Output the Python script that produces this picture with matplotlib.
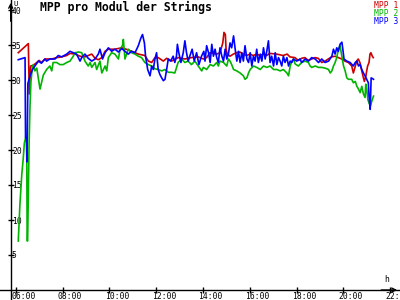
import matplotlib
matplotlib.use("Agg")
import matplotlib.pyplot as plt
from matplotlib.transforms import ScaledTranslation

# MPP-Spannung je Modul (V) ueber die Uhrzeit (h)
mpp1_t = [6.11, 6.54, 6.58, 6.64, 6.75, 6.90, 7.00, 7.10, 7.25, 7.40, 7.54, 7.75, 7.96, 8.18, 8.32,
          8.54, 8.75, 8.96, 9.10, 9.25, 9.39, 9.53, 9.68, 9.82, 9.96, 10.10, 10.24, 10.53, 10.81,
          11.10, 11.24, 11.52, 11.67, 11.81, 11.95, 12.09, 12.31, 12.45, 12.66, 12.94, 13.23, 13.51,
          13.80, 14.02, 14.16, 14.30, 14.45, 14.59, 14.73, 14.85, 14.90, 14.96, 14.99, 15.04, 15.16,
          15.30, 15.44, 15.58, 15.73, 15.87, 16.01, 16.15, 16.30, 16.44, 16.58, 16.72, 16.86, 17.15,
          17.43, 17.60, 17.72, 17.93, 18.08, 18.22, 18.36, 18.50, 18.65, 18.79, 18.93, 19.08, 19.22,
          19.36, 19.50, 19.65, 19.79, 19.93, 20.07, 20.22, 20.36, 20.43, 20.50, 20.57, 20.64, 20.71,
          20.79, 20.86, 20.90, 20.96, 21.00, 21.04, 21.10, 21.14, 21.18, 21.24, 21.28]
mpp1_v = [33.9, 35.2, 28.0, 32.0, 32.1, 32.5, 32.8, 32.5, 33.0, 33.0, 33.0, 33.2, 33.3, 33.5, 33.8,
          33.7, 33.4, 33.3, 33.5, 33.7, 33.1, 32.9, 33.2, 34.1, 34.4, 34.4, 34.4, 34.6, 34.3,
          33.9, 33.7, 33.5, 32.7, 32.5, 33.2, 33.2, 32.7, 33.1, 32.7, 33.2, 33.0, 33.2,
          33.3, 33.0, 33.2, 33.9, 33.8, 33.7, 33.9, 35.3, 36.8, 36.5, 34.4, 33.7, 33.4,
          33.7, 33.9, 34.0, 33.7, 33.5, 33.7, 33.5, 33.7, 33.5, 33.7, 33.5, 33.8, 33.7,
          33.5, 33.7, 33.3, 33.2, 32.8, 33.1, 33.2, 32.8, 33.0, 33.2, 33.1, 32.5, 32.7,
          33.0, 33.3, 33.4, 33.2, 33.0, 32.7, 32.5, 32.0, 31.0, 31.8, 32.7, 33.0, 32.5,
          31.3, 30.3, 29.8, 30.5, 31.3, 32.0, 32.5, 33.7, 33.9, 33.4, 33.2]

mpp2_t = [6.11, 6.18, 6.26, 6.32, 6.37, 6.44, 6.47, 6.49, 6.51, 6.57, 6.61, 6.65, 6.71, 6.75, 6.82,
          6.90, 7.00, 7.04, 7.18, 7.32, 7.46, 7.54, 7.60, 7.75, 7.89, 8.03, 8.18, 8.32, 8.46, 8.54,
          8.68, 8.82, 8.96, 9.10, 9.18, 9.25, 9.39, 9.46, 9.60, 9.68, 9.82, 9.89, 9.96, 10.10, 10.24,
          10.39, 10.46, 10.56, 10.60, 10.67, 10.81, 10.95, 11.10, 11.24, 11.38, 11.52, 11.67, 11.81,
          11.95, 12.09, 12.24, 12.38, 12.52, 12.66, 12.80, 12.94, 13.09, 13.23, 13.37, 13.51, 13.66,
          13.80, 13.95, 14.02, 14.16, 14.31, 14.45, 14.59, 14.66, 14.73, 14.88, 15.02, 15.09, 15.16,
          15.23, 15.31, 15.45, 15.59, 15.73, 15.80, 15.88, 15.95, 16.02, 16.16, 16.30, 16.45, 16.59,
          16.73, 16.87, 17.02, 17.16, 17.30, 17.44, 17.59, 17.66, 17.73, 17.80, 17.87, 17.94, 18.08,
          18.22, 18.37, 18.51, 18.58, 18.65, 18.80, 18.94, 19.08, 19.22, 19.37, 19.44, 19.51, 19.58,
          19.65, 19.72, 19.79, 19.86, 19.94, 20.01, 20.08, 20.15, 20.22, 20.36, 20.43, 20.51, 20.58,
          20.65, 20.72, 20.79, 20.86, 20.93, 20.96, 21.00, 21.05, 21.10, 21.16, 21.22, 21.29]
mpp2_v = [7.0, 12.2, 16.5, 18.7, 21.0, 22.0, 21.0, 7.0, 7.0, 20.5, 26.2, 29.7, 31.8, 32.2, 31.3,
          31.7, 29.6, 28.7, 30.7, 31.5, 32.0, 31.3, 32.5, 32.5, 32.2, 32.2, 32.5, 32.7, 33.4, 33.9,
          34.0, 33.9, 32.7, 32.0, 32.5, 31.8, 32.5, 31.5, 32.7, 31.0, 32.0, 31.3, 33.2, 33.9, 33.7,
          33.0, 34.4, 34.9, 35.8, 33.0, 34.4, 33.9, 33.7, 33.4, 33.2, 32.5, 32.2, 32.0,
          31.6, 31.5, 31.3, 31.5, 31.1, 31.1, 31.0, 32.5, 33.0, 32.5, 32.7, 32.2, 32.7,
          32.0, 31.3, 31.8, 31.5, 32.2, 32.0, 32.5, 32.0, 32.7, 32.5, 32.0, 33.0, 32.7,
          32.2, 31.5, 31.3, 31.0, 30.6, 30.1, 30.3, 31.0, 31.5, 32.0, 31.8, 31.5, 32.0,
          31.8, 32.0, 31.5, 31.5, 31.3, 31.5, 31.0, 30.6, 32.0, 32.7, 33.0, 32.3, 32.0,
          32.5, 32.7, 32.5, 32.0, 31.8, 32.0, 31.8, 31.8, 31.7, 31.5, 31.0, 31.3, 32.0,
          32.5, 33.2, 34.4, 34.9, 33.4, 32.0, 31.3, 30.3, 30.1, 30.1, 29.6, 29.8, 29.1,
          28.7, 28.2, 29.1, 28.0, 27.5, 29.4, 28.7, 27.2, 26.7, 26.3, 27.0, 27.7]

mpp3_t = [6.11, 6.40, 6.42, 6.46, 6.48, 6.52, 6.61, 6.72, 6.82, 6.97, 7.10, 7.25, 7.32, 7.46, 7.68,
          7.82, 7.96, 8.18, 8.32, 8.46, 8.60, 8.75, 8.82, 8.96, 9.10, 9.25, 9.39, 9.53, 9.60, 9.71,
          9.82, 9.96, 10.10, 10.24, 10.39, 10.53, 10.67, 10.81, 10.95, 11.10, 11.24, 11.35, 11.42,
          11.50, 11.55, 11.64, 11.74, 11.81, 11.88, 11.95, 12.02, 12.09, 12.16, 12.24, 12.31, 12.38,
          12.45, 12.52, 12.62, 12.73, 12.80, 12.87, 12.91, 12.97, 13.06, 13.16, 13.23, 13.30, 13.37,
          13.44, 13.54, 13.63, 13.73, 13.83, 13.94, 14.04, 14.09, 14.16, 14.24, 14.31, 14.38, 14.45,
          14.52, 14.59, 14.66, 14.73, 14.81, 14.88, 14.95, 15.02, 15.09, 15.16, 15.23, 15.31, 15.38,
          15.45, 15.52, 15.59, 15.66, 15.73, 15.80, 15.88, 15.95, 16.02, 16.09, 16.16, 16.23, 16.30,
          16.37, 16.45, 16.52, 16.59, 16.66, 16.73, 16.80, 16.87, 16.94, 17.02, 17.09, 17.16, 17.23,
          17.30, 17.37, 17.44, 17.51, 17.59, 17.66, 17.73, 17.80, 17.87, 18.01, 18.15, 18.22, 18.37,
          18.51, 18.65, 18.80, 18.94, 19.08, 19.22, 19.37, 19.51, 19.58, 19.65, 19.72, 19.79, 19.86,
          19.94, 19.98, 20.03, 20.15, 20.29, 20.43, 20.51, 20.58, 20.65, 20.72, 20.79, 20.86, 20.93,
          21.00, 21.07, 21.10, 21.15, 21.19, 21.25, 21.29]
mpp3_v = [32.9, 33.2, 21.8, 21.5, 18.3, 29.5, 30.6, 31.5, 32.0, 32.7, 32.4, 33.0, 32.7, 33.0, 33.0,
          33.5, 33.3, 33.7, 34.1, 33.9, 33.7, 32.7, 33.2, 33.7, 33.1, 32.7, 33.0, 33.7, 34.4, 33.0,
          33.9, 34.6, 34.1, 34.4, 34.0, 34.5, 34.1, 33.7, 34.1, 33.9, 34.9, 36.0, 36.5,
          35.3, 33.4, 31.5, 30.6, 32.0, 31.5, 33.0, 33.9, 31.5, 30.8, 30.3, 29.9, 30.1,
          31.5, 33.0, 32.7, 33.4, 32.5, 33.4, 35.1, 33.9, 32.5, 33.9, 35.6, 33.9, 32.7,
          33.4, 34.4, 32.7, 33.9, 32.2, 33.4, 34.1, 32.7, 34.9, 33.9, 32.5, 35.1, 33.4,
          34.4, 33.2, 32.5, 34.6, 33.4, 32.7, 34.4, 33.0, 33.7, 35.3, 34.6, 36.3, 34.4,
          32.7, 34.1, 32.5, 33.9, 32.7, 34.9, 33.0, 32.5, 33.9, 32.0, 33.4, 32.7, 34.4,
          32.5, 33.7, 32.7, 34.6, 33.0, 34.1, 35.6, 32.5, 33.4, 32.0, 33.9, 32.2, 33.2,
          32.7, 32.0, 33.4, 32.5, 33.2, 32.0, 32.7, 32.5, 33.0, 32.7, 33.0, 32.5, 33.0,
          32.7, 33.2, 33.0, 32.5, 33.0, 32.5, 32.7, 33.4, 34.4, 33.7, 34.6, 34.1, 35.1,
          35.4, 34.4, 33.0, 32.7, 32.5, 32.0, 32.5, 32.7, 32.0, 32.2, 31.5, 31.0, 30.6,
          30.1, 29.6, 27.7, 25.8, 30.3, 30.2, 30.1]

x_ticks = [6, 8, 10, 12, 14, 16, 18, 20, 22]
x_labels = ["06:00", "08:00", "10:00", "12:00", "14:00", "16:00", "18:00", "20:00", "22:00"]
y_ticks = [5, 10, 15, 20, 25, 30, 35, 40]

farbe1 = "#cc0000"
farbe2 = "#00b400"
farbe3 = "#0000ff"
schrift = "DejaVu Sans Mono"

fig = plt.figure(figsize=(4, 3), dpi=100)
ax = fig.add_axes([0, 0, 1, 1])
ax.patch.set_alpha(0)

# pixel geometrie: 06:00 bei x=15.7, 23.4 px pro Stunde; 0 V bei y=290, 7 px pro Volt
ax.set_xlim(6 - 15.7 / 23.4, 6 + 384.3 / 23.4)
ax.set_ylim(-10 / 7, 290 / 7)
x_achse = 6 - 5.0 / 23.4

ax.plot(mpp1_t, mpp1_v, color=farbe1, lw=1.2)
ax.plot(mpp2_t, mpp2_v, color=farbe2, lw=1.2)
ax.plot(mpp3_t, mpp3_v, color=farbe3, lw=1.2)

for s in ["top", "right"]:
    ax.spines[s].set_visible(False)
ax.spines["left"].set_position(("data", x_achse))
ax.spines["bottom"].set_position(("data", 0))
ax.spines["left"].set_linewidth(1.0)
ax.spines["bottom"].set_linewidth(1.0)

ax.set_xticks(x_ticks)
ax.set_xticklabels(x_labels)
ax.set_yticks(y_ticks)
ax.set_yticklabels([str(v) for v in y_ticks])
ax.tick_params(axis="both", direction="inout", length=4, width=1, labelsize=5.8)
ax.tick_params(axis="y", pad=-2.9)
ax.tick_params(axis="x", pad=-0.6)

for lab in ax.get_yticklabels():
    lab.set_horizontalalignment("left")
    lab.set_family(schrift)
for lab in ax.get_xticklabels():
    lab.set_horizontalalignment("left")
    lab.set_family(schrift)
    lab.set_transform(lab.get_transform() + ScaledTranslation(-4.5 / 100, 0, fig.dpi_scale_trans))

# Pfeile an den Achsenenden
ax.annotate("", xy=(x_achse, 41.43), xytext=(x_achse, 38),
            arrowprops=dict(arrowstyle="->", lw=1.0, color="black", mutation_scale=7))
ax.annotate("", xy=(22.42, 0), xytext=(21.5, 0),
            arrowprops=dict(arrowstyle="->", lw=1.0, color="black", mutation_scale=7))

fig.text(13 / 400, 1 - 0.5 / 300, "U", fontsize=5.2, family=schrift, va="top", ha="left")
fig.text(387 / 400, 1 - 284 / 300, "h", fontsize=5.8, family=schrift, va="bottom", ha="center")

fig.text(40 / 400, 1 - 1 / 300, "MPP pro Modul der Strings", fontsize=8.3, family=schrift,
         fontweight="bold", va="top", ha="left")

fig.text(398 / 400, 1 - 1 / 300, "MPP 1", fontsize=5.8, family=schrift, color=farbe1, va="top", ha="right")
fig.text(398 / 400, 1 - 9 / 300, "MPP 2", fontsize=5.8, family=schrift, color=farbe2, va="top", ha="right")
fig.text(398 / 400, 1 - 17 / 300, "MPP 3", fontsize=5.8, family=schrift, color=farbe3, va="top", ha="right")

fig.savefig("out.png", dpi=100)
